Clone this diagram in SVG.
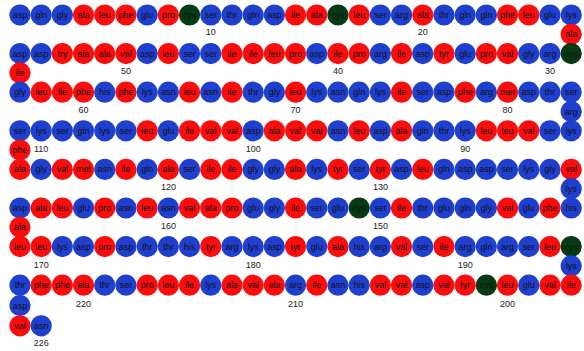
<svg xmlns="http://www.w3.org/2000/svg" width="584" height="351" viewBox="0 0 584 351">
<style>
circle{stroke:none}
.b circle{fill:#1f3fcf}
.r circle{fill:#fb0d0d}
.g circle{fill:#063a14}
text{font-family:"Liberation Sans",Arial,sans-serif;font-size:9px;text-anchor:middle;fill:#111}
.lbl text{fill:#222}
</style>
<rect width="584" height="351" fill="#fff"/>
<g id="nodes">
<g id="n1" class="b"><circle cx="20" cy="15" r="10.6"/><text x="20" y="18">asp</text></g>
<g id="n2" class="b"><circle cx="41.2" cy="15" r="10.6"/><text x="41.2" y="18">gln</text></g>
<g id="n3" class="b"><circle cx="62.4" cy="15" r="10.6"/><text x="62.4" y="18">gly</text></g>
<g id="n4" class="r"><circle cx="83.6" cy="15" r="10.6"/><text x="83.6" y="18">ala</text></g>
<g id="n5" class="r"><circle cx="104.8" cy="15" r="10.6"/><text x="104.8" y="18">leu</text></g>
<g id="n6" class="r"><circle cx="126" cy="15" r="10.6"/><text x="126" y="18">phe</text></g>
<g id="n7" class="b"><circle cx="147.2" cy="15" r="10.6"/><text x="147.2" y="18">glu</text></g>
<g id="n8" class="r"><circle cx="168.4" cy="15" r="10.6"/><text x="168.4" y="18">pro</text></g>
<g id="n9" class="g"><circle cx="189.6" cy="15" r="10.6"/><text x="189.6" y="18">cys</text></g>
<g id="n10" class="b"><circle cx="210.8" cy="15" r="10.6"/><text x="210.8" y="18">ser</text></g>
<g id="n11" class="b"><circle cx="232" cy="15" r="10.6"/><text x="232" y="18">thr</text></g>
<g id="n12" class="b"><circle cx="253.2" cy="15" r="10.6"/><text x="253.2" y="18">gln</text></g>
<g id="n13" class="b"><circle cx="274.4" cy="15" r="10.6"/><text x="274.4" y="18">asp</text></g>
<g id="n14" class="r"><circle cx="295.6" cy="15" r="10.6"/><text x="295.6" y="18">ile</text></g>
<g id="n15" class="r"><circle cx="316.8" cy="15" r="10.6"/><text x="316.8" y="18">ala</text></g>
<g id="n16" class="g"><circle cx="338" cy="15" r="10.6"/><text x="338" y="18">cys</text></g>
<g id="n17" class="r"><circle cx="359.2" cy="15" r="10.6"/><text x="359.2" y="18">leu</text></g>
<g id="n18" class="b"><circle cx="380.4" cy="15" r="10.6"/><text x="380.4" y="18">ser</text></g>
<g id="n19" class="b"><circle cx="401.6" cy="15" r="10.6"/><text x="401.6" y="18">arg</text></g>
<g id="n20" class="r"><circle cx="422.8" cy="15" r="10.6"/><text x="422.8" y="18">ala</text></g>
<g id="n21" class="b"><circle cx="444" cy="15" r="10.6"/><text x="444" y="18">thr</text></g>
<g id="n22" class="b"><circle cx="465.2" cy="15" r="10.6"/><text x="465.2" y="18">gln</text></g>
<g id="n23" class="b"><circle cx="486.4" cy="15" r="10.6"/><text x="486.4" y="18">gln</text></g>
<g id="n24" class="r"><circle cx="507.6" cy="15" r="10.6"/><text x="507.6" y="18">phe</text></g>
<g id="n25" class="r"><circle cx="528.8" cy="15" r="10.6"/><text x="528.8" y="18">leu</text></g>
<g id="n26" class="b"><circle cx="550" cy="15" r="10.6"/><text x="550" y="18">glu</text></g>
<g id="n27" class="b"><circle cx="571.2" cy="15" r="10.6"/><text x="571.2" y="18">lys</text></g>
<g id="n28" class="r"><circle cx="571.2" cy="34.3" r="10.6"/><text x="571.2" y="37.3">ala</text></g>
<g id="n29" class="g"><circle cx="571.2" cy="53.6" r="10.6"/><text x="571.2" y="56.6">cys</text></g>
<g id="n30" class="b"><circle cx="550" cy="53.6" r="10.6"/><text x="550" y="56.6">arg</text></g>
<g id="n31" class="b"><circle cx="528.8" cy="53.6" r="10.6"/><text x="528.8" y="56.6">gly</text></g>
<g id="n32" class="r"><circle cx="507.6" cy="53.6" r="10.6"/><text x="507.6" y="56.6">val</text></g>
<g id="n33" class="r"><circle cx="486.4" cy="53.6" r="10.6"/><text x="486.4" y="56.6">pro</text></g>
<g id="n34" class="b"><circle cx="465.2" cy="53.6" r="10.6"/><text x="465.2" y="56.6">glu</text></g>
<g id="n35" class="r"><circle cx="444" cy="53.6" r="10.6"/><text x="444" y="56.6">tyr</text></g>
<g id="n36" class="b"><circle cx="422.8" cy="53.6" r="10.6"/><text x="422.8" y="56.6">asp</text></g>
<g id="n37" class="r"><circle cx="401.6" cy="53.6" r="10.6"/><text x="401.6" y="56.6">ile</text></g>
<g id="n38" class="b"><circle cx="380.4" cy="53.6" r="10.6"/><text x="380.4" y="56.6">arg</text></g>
<g id="n39" class="r"><circle cx="359.2" cy="53.6" r="10.6"/><text x="359.2" y="56.6">pro</text></g>
<g id="n40" class="r"><circle cx="338" cy="53.6" r="10.6"/><text x="338" y="56.6">ile</text></g>
<g id="n41" class="b"><circle cx="316.8" cy="53.6" r="10.6"/><text x="316.8" y="56.6">asp</text></g>
<g id="n42" class="r"><circle cx="295.6" cy="53.6" r="10.6"/><text x="295.6" y="56.6">pro</text></g>
<g id="n43" class="r"><circle cx="274.4" cy="53.6" r="10.6"/><text x="274.4" y="56.6">leu</text></g>
<g id="n44" class="r"><circle cx="253.2" cy="53.6" r="10.6"/><text x="253.2" y="56.6">ile</text></g>
<g id="n45" class="r"><circle cx="232" cy="53.6" r="10.6"/><text x="232" y="56.6">ile</text></g>
<g id="n46" class="b"><circle cx="210.8" cy="53.6" r="10.6"/><text x="210.8" y="56.6">ser</text></g>
<g id="n47" class="b"><circle cx="189.6" cy="53.6" r="10.6"/><text x="189.6" y="56.6">ser</text></g>
<g id="n48" class="r"><circle cx="168.4" cy="53.6" r="10.6"/><text x="168.4" y="56.6">leu</text></g>
<g id="n49" class="b"><circle cx="147.2" cy="53.6" r="10.6"/><text x="147.2" y="56.6">asp</text></g>
<g id="n50" class="r"><circle cx="126" cy="53.6" r="10.6"/><text x="126" y="56.6">val</text></g>
<g id="n51" class="r"><circle cx="104.8" cy="53.6" r="10.6"/><text x="104.8" y="56.6">ala</text></g>
<g id="n52" class="r"><circle cx="83.6" cy="53.6" r="10.6"/><text x="83.6" y="56.6">ala</text></g>
<g id="n53" class="r"><circle cx="62.4" cy="53.6" r="10.6"/><text x="62.4" y="56.6">try</text></g>
<g id="n54" class="b"><circle cx="41.2" cy="53.6" r="10.6"/><text x="41.2" y="56.6">asp</text></g>
<g id="n55" class="b"><circle cx="20" cy="53.6" r="10.6"/><text x="20" y="56.6">asp</text></g>
<g id="n56" class="r"><circle cx="20" cy="72.9" r="10.6"/><text x="20" y="75.9">ile</text></g>
<g id="n57" class="b"><circle cx="20" cy="92.2" r="10.6"/><text x="20" y="95.2">gly</text></g>
<g id="n58" class="r"><circle cx="41.2" cy="92.2" r="10.6"/><text x="41.2" y="95.2">leu</text></g>
<g id="n59" class="r"><circle cx="62.4" cy="92.2" r="10.6"/><text x="62.4" y="95.2">ile</text></g>
<g id="n60" class="r"><circle cx="83.6" cy="92.2" r="10.6"/><text x="83.6" y="95.2">phe</text></g>
<g id="n61" class="b"><circle cx="104.8" cy="92.2" r="10.6"/><text x="104.8" y="95.2">his</text></g>
<g id="n62" class="r"><circle cx="126" cy="92.2" r="10.6"/><text x="126" y="95.2">phe</text></g>
<g id="n63" class="b"><circle cx="147.2" cy="92.2" r="10.6"/><text x="147.2" y="95.2">lys</text></g>
<g id="n64" class="b"><circle cx="168.4" cy="92.2" r="10.6"/><text x="168.4" y="95.2">asn</text></g>
<g id="n65" class="r"><circle cx="189.6" cy="92.2" r="10.6"/><text x="189.6" y="95.2">leu</text></g>
<g id="n66" class="b"><circle cx="210.8" cy="92.2" r="10.6"/><text x="210.8" y="95.2">asn</text></g>
<g id="n67" class="r"><circle cx="232" cy="92.2" r="10.6"/><text x="232" y="95.2">ile</text></g>
<g id="n68" class="b"><circle cx="253.2" cy="92.2" r="10.6"/><text x="253.2" y="95.2">thr</text></g>
<g id="n69" class="b"><circle cx="274.4" cy="92.2" r="10.6"/><text x="274.4" y="95.2">gly</text></g>
<g id="n70" class="r"><circle cx="295.6" cy="92.2" r="10.6"/><text x="295.6" y="95.2">leu</text></g>
<g id="n71" class="b"><circle cx="316.8" cy="92.2" r="10.6"/><text x="316.8" y="95.2">lys</text></g>
<g id="n72" class="b"><circle cx="338" cy="92.2" r="10.6"/><text x="338" y="95.2">asn</text></g>
<g id="n73" class="b"><circle cx="359.2" cy="92.2" r="10.6"/><text x="359.2" y="95.2">gln</text></g>
<g id="n74" class="b"><circle cx="380.4" cy="92.2" r="10.6"/><text x="380.4" y="95.2">lys</text></g>
<g id="n75" class="r"><circle cx="401.6" cy="92.2" r="10.6"/><text x="401.6" y="95.2">ile</text></g>
<g id="n76" class="b"><circle cx="422.8" cy="92.2" r="10.6"/><text x="422.8" y="95.2">ser</text></g>
<g id="n77" class="b"><circle cx="444" cy="92.2" r="10.6"/><text x="444" y="95.2">asp</text></g>
<g id="n78" class="r"><circle cx="465.2" cy="92.2" r="10.6"/><text x="465.2" y="95.2">phe</text></g>
<g id="n79" class="b"><circle cx="486.4" cy="92.2" r="10.6"/><text x="486.4" y="95.2">arg</text></g>
<g id="n80" class="r"><circle cx="507.6" cy="92.2" r="10.6"/><text x="507.6" y="95.2">met</text></g>
<g id="n81" class="b"><circle cx="528.8" cy="92.2" r="10.6"/><text x="528.8" y="95.2">asp</text></g>
<g id="n82" class="b"><circle cx="550" cy="92.2" r="10.6"/><text x="550" y="95.2">thr</text></g>
<g id="n83" class="b"><circle cx="571.2" cy="92.2" r="10.6"/><text x="571.2" y="95.2">ser</text></g>
<g id="n84" class="b"><circle cx="571.2" cy="111.5" r="10.6"/><text x="571.2" y="114.5">arg</text></g>
<g id="n85" class="b"><circle cx="571.2" cy="130.8" r="10.6"/><text x="571.2" y="133.8">lys</text></g>
<g id="n86" class="b"><circle cx="550" cy="130.8" r="10.6"/><text x="550" y="133.8">ser</text></g>
<g id="n87" class="r"><circle cx="528.8" cy="130.8" r="10.6"/><text x="528.8" y="133.8">val</text></g>
<g id="n88" class="r"><circle cx="507.6" cy="130.8" r="10.6"/><text x="507.6" y="133.8">leu</text></g>
<g id="n89" class="r"><circle cx="486.4" cy="130.8" r="10.6"/><text x="486.4" y="133.8">leu</text></g>
<g id="n90" class="b"><circle cx="465.2" cy="130.8" r="10.6"/><text x="465.2" y="133.8">lys</text></g>
<g id="n91" class="b"><circle cx="444" cy="130.8" r="10.6"/><text x="444" y="133.8">thr</text></g>
<g id="n92" class="b"><circle cx="422.8" cy="130.8" r="10.6"/><text x="422.8" y="133.8">gln</text></g>
<g id="n93" class="r"><circle cx="401.6" cy="130.8" r="10.6"/><text x="401.6" y="133.8">ala</text></g>
<g id="n94" class="b"><circle cx="380.4" cy="130.8" r="10.6"/><text x="380.4" y="133.8">asp</text></g>
<g id="n95" class="r"><circle cx="359.2" cy="130.8" r="10.6"/><text x="359.2" y="133.8">leu</text></g>
<g id="n96" class="b"><circle cx="338" cy="130.8" r="10.6"/><text x="338" y="133.8">asn</text></g>
<g id="n97" class="r"><circle cx="316.8" cy="130.8" r="10.6"/><text x="316.8" y="133.8">val</text></g>
<g id="n98" class="r"><circle cx="295.6" cy="130.8" r="10.6"/><text x="295.6" y="133.8">val</text></g>
<g id="n99" class="r"><circle cx="274.4" cy="130.8" r="10.6"/><text x="274.4" y="133.8">ala</text></g>
<g id="n100" class="b"><circle cx="253.2" cy="130.8" r="10.6"/><text x="253.2" y="133.8">asp</text></g>
<g id="n101" class="r"><circle cx="232" cy="130.8" r="10.6"/><text x="232" y="133.8">val</text></g>
<g id="n102" class="r"><circle cx="210.8" cy="130.8" r="10.6"/><text x="210.8" y="133.8">val</text></g>
<g id="n103" class="r"><circle cx="189.6" cy="130.8" r="10.6"/><text x="189.6" y="133.8">ile</text></g>
<g id="n104" class="b"><circle cx="168.4" cy="130.8" r="10.6"/><text x="168.4" y="133.8">glu</text></g>
<g id="n105" class="r"><circle cx="147.2" cy="130.8" r="10.6"/><text x="147.2" y="133.8">leu</text></g>
<g id="n106" class="b"><circle cx="126" cy="130.8" r="10.6"/><text x="126" y="133.8">ser</text></g>
<g id="n107" class="b"><circle cx="104.8" cy="130.8" r="10.6"/><text x="104.8" y="133.8">lys</text></g>
<g id="n108" class="b"><circle cx="83.6" cy="130.8" r="10.6"/><text x="83.6" y="133.8">gln</text></g>
<g id="n109" class="b"><circle cx="62.4" cy="130.8" r="10.6"/><text x="62.4" y="133.8">ser</text></g>
<g id="n110" class="b"><circle cx="41.2" cy="130.8" r="10.6"/><text x="41.2" y="133.8">lys</text></g>
<g id="n111" class="b"><circle cx="20" cy="130.8" r="10.6"/><text x="20" y="133.8">ser</text></g>
<g id="n112" class="r"><circle cx="20" cy="150.1" r="10.6"/><text x="20" y="153.1">phe</text></g>
<g id="n113" class="r"><circle cx="20" cy="169.4" r="10.6"/><text x="20" y="172.4">ala</text></g>
<g id="n114" class="b"><circle cx="41.2" cy="169.4" r="10.6"/><text x="41.2" y="172.4">gly</text></g>
<g id="n115" class="r"><circle cx="62.4" cy="169.4" r="10.6"/><text x="62.4" y="172.4">val</text></g>
<g id="n116" class="r"><circle cx="83.6" cy="169.4" r="10.6"/><text x="83.6" y="172.4">met</text></g>
<g id="n117" class="b"><circle cx="104.8" cy="169.4" r="10.6"/><text x="104.8" y="172.4">asn</text></g>
<g id="n118" class="r"><circle cx="126" cy="169.4" r="10.6"/><text x="126" y="172.4">ile</text></g>
<g id="n119" class="b"><circle cx="147.2" cy="169.4" r="10.6"/><text x="147.2" y="172.4">gln</text></g>
<g id="n120" class="r"><circle cx="168.4" cy="169.4" r="10.6"/><text x="168.4" y="172.4">ala</text></g>
<g id="n121" class="b"><circle cx="189.6" cy="169.4" r="10.6"/><text x="189.6" y="172.4">ser</text></g>
<g id="n122" class="r"><circle cx="210.8" cy="169.4" r="10.6"/><text x="210.8" y="172.4">ile</text></g>
<g id="n123" class="r"><circle cx="232" cy="169.4" r="10.6"/><text x="232" y="172.4">ile</text></g>
<g id="n124" class="b"><circle cx="253.2" cy="169.4" r="10.6"/><text x="253.2" y="172.4">gly</text></g>
<g id="n125" class="b"><circle cx="274.4" cy="169.4" r="10.6"/><text x="274.4" y="172.4">gly</text></g>
<g id="n126" class="r"><circle cx="295.6" cy="169.4" r="10.6"/><text x="295.6" y="172.4">ala</text></g>
<g id="n127" class="b"><circle cx="316.8" cy="169.4" r="10.6"/><text x="316.8" y="172.4">lys</text></g>
<g id="n128" class="r"><circle cx="338" cy="169.4" r="10.6"/><text x="338" y="172.4">tyr</text></g>
<g id="n129" class="b"><circle cx="359.2" cy="169.4" r="10.6"/><text x="359.2" y="172.4">ser</text></g>
<g id="n130" class="r"><circle cx="380.4" cy="169.4" r="10.6"/><text x="380.4" y="172.4">tyr</text></g>
<g id="n131" class="b"><circle cx="401.6" cy="169.4" r="10.6"/><text x="401.6" y="172.4">asp</text></g>
<g id="n132" class="r"><circle cx="422.8" cy="169.4" r="10.6"/><text x="422.8" y="172.4">leu</text></g>
<g id="n133" class="b"><circle cx="444" cy="169.4" r="10.6"/><text x="444" y="172.4">gln</text></g>
<g id="n134" class="b"><circle cx="465.2" cy="169.4" r="10.6"/><text x="465.2" y="172.4">asp</text></g>
<g id="n135" class="b"><circle cx="486.4" cy="169.4" r="10.6"/><text x="486.4" y="172.4">asp</text></g>
<g id="n136" class="b"><circle cx="507.6" cy="169.4" r="10.6"/><text x="507.6" y="172.4">ser</text></g>
<g id="n137" class="b"><circle cx="528.8" cy="169.4" r="10.6"/><text x="528.8" y="172.4">lys</text></g>
<g id="n138" class="b"><circle cx="550" cy="169.4" r="10.6"/><text x="550" y="172.4">gly</text></g>
<g id="n139" class="r"><circle cx="571.2" cy="169.4" r="10.6"/><text x="571.2" y="172.4">val</text></g>
<g id="n140" class="b"><circle cx="571.2" cy="188.7" r="10.6"/><text x="571.2" y="191.7">lys</text></g>
<g id="n141" class="b"><circle cx="571.2" cy="208" r="10.6"/><text x="571.2" y="211">his</text></g>
<g id="n142" class="r"><circle cx="550" cy="208" r="10.6"/><text x="550" y="211">phe</text></g>
<g id="n143" class="b"><circle cx="528.8" cy="208" r="10.6"/><text x="528.8" y="211">glu</text></g>
<g id="n144" class="r"><circle cx="507.6" cy="208" r="10.6"/><text x="507.6" y="211">val</text></g>
<g id="n145" class="b"><circle cx="486.4" cy="208" r="10.6"/><text x="486.4" y="211">gly</text></g>
<g id="n146" class="b"><circle cx="465.2" cy="208" r="10.6"/><text x="465.2" y="211">gln</text></g>
<g id="n147" class="b"><circle cx="444" cy="208" r="10.6"/><text x="444" y="211">glu</text></g>
<g id="n148" class="b"><circle cx="422.8" cy="208" r="10.6"/><text x="422.8" y="211">thr</text></g>
<g id="n149" class="r"><circle cx="401.6" cy="208" r="10.6"/><text x="401.6" y="211">ile</text></g>
<g id="n150" class="b"><circle cx="380.4" cy="208" r="10.6"/><text x="380.4" y="211">ser</text></g>
<g id="n151" class="g"><circle cx="359.2" cy="208" r="10.6"/><text x="359.2" y="211">cys</text></g>
<g id="n152" class="b"><circle cx="338" cy="208" r="10.6"/><text x="338" y="211">glu</text></g>
<g id="n153" class="b"><circle cx="316.8" cy="208" r="10.6"/><text x="316.8" y="211">ser</text></g>
<g id="n154" class="r"><circle cx="295.6" cy="208" r="10.6"/><text x="295.6" y="211">ile</text></g>
<g id="n155" class="b"><circle cx="274.4" cy="208" r="10.6"/><text x="274.4" y="211">gly</text></g>
<g id="n156" class="b"><circle cx="253.2" cy="208" r="10.6"/><text x="253.2" y="211">glu</text></g>
<g id="n157" class="r"><circle cx="232" cy="208" r="10.6"/><text x="232" y="211">pro</text></g>
<g id="n158" class="r"><circle cx="210.8" cy="208" r="10.6"/><text x="210.8" y="211">ala</text></g>
<g id="n159" class="r"><circle cx="189.6" cy="208" r="10.6"/><text x="189.6" y="211">val</text></g>
<g id="n160" class="b"><circle cx="168.4" cy="208" r="10.6"/><text x="168.4" y="211">asn</text></g>
<g id="n161" class="r"><circle cx="147.2" cy="208" r="10.6"/><text x="147.2" y="211">leu</text></g>
<g id="n162" class="b"><circle cx="126" cy="208" r="10.6"/><text x="126" y="211">asn</text></g>
<g id="n163" class="r"><circle cx="104.8" cy="208" r="10.6"/><text x="104.8" y="211">pro</text></g>
<g id="n164" class="b"><circle cx="83.6" cy="208" r="10.6"/><text x="83.6" y="211">glu</text></g>
<g id="n165" class="r"><circle cx="62.4" cy="208" r="10.6"/><text x="62.4" y="211">leu</text></g>
<g id="n166" class="r"><circle cx="41.2" cy="208" r="10.6"/><text x="41.2" y="211">ala</text></g>
<g id="n167" class="b"><circle cx="20" cy="208" r="10.6"/><text x="20" y="211">asp</text></g>
<g id="n168" class="r"><circle cx="20" cy="227.3" r="10.6"/><text x="20" y="230.3">ala</text></g>
<g id="n169" class="r"><circle cx="20" cy="246.6" r="10.6"/><text x="20" y="249.6">leu</text></g>
<g id="n170" class="r"><circle cx="41.2" cy="246.6" r="10.6"/><text x="41.2" y="249.6">leu</text></g>
<g id="n171" class="b"><circle cx="62.4" cy="246.6" r="10.6"/><text x="62.4" y="249.6">lys</text></g>
<g id="n172" class="b"><circle cx="83.6" cy="246.6" r="10.6"/><text x="83.6" y="249.6">asp</text></g>
<g id="n173" class="r"><circle cx="104.8" cy="246.6" r="10.6"/><text x="104.8" y="249.6">pro</text></g>
<g id="n174" class="b"><circle cx="126" cy="246.6" r="10.6"/><text x="126" y="249.6">asp</text></g>
<g id="n175" class="b"><circle cx="147.2" cy="246.6" r="10.6"/><text x="147.2" y="249.6">thr</text></g>
<g id="n176" class="b"><circle cx="168.4" cy="246.6" r="10.6"/><text x="168.4" y="249.6">thr</text></g>
<g id="n177" class="b"><circle cx="189.6" cy="246.6" r="10.6"/><text x="189.6" y="249.6">his</text></g>
<g id="n178" class="r"><circle cx="210.8" cy="246.6" r="10.6"/><text x="210.8" y="249.6">tyr</text></g>
<g id="n179" class="b"><circle cx="232" cy="246.6" r="10.6"/><text x="232" y="249.6">arg</text></g>
<g id="n180" class="b"><circle cx="253.2" cy="246.6" r="10.6"/><text x="253.2" y="249.6">lys</text></g>
<g id="n181" class="b"><circle cx="274.4" cy="246.6" r="10.6"/><text x="274.4" y="249.6">asp</text></g>
<g id="n182" class="r"><circle cx="295.6" cy="246.6" r="10.6"/><text x="295.6" y="249.6">tyr</text></g>
<g id="n183" class="b"><circle cx="316.8" cy="246.6" r="10.6"/><text x="316.8" y="249.6">glu</text></g>
<g id="n184" class="r"><circle cx="338" cy="246.6" r="10.6"/><text x="338" y="249.6">ala</text></g>
<g id="n185" class="b"><circle cx="359.2" cy="246.6" r="10.6"/><text x="359.2" y="249.6">his</text></g>
<g id="n186" class="b"><circle cx="380.4" cy="246.6" r="10.6"/><text x="380.4" y="249.6">arg</text></g>
<g id="n187" class="r"><circle cx="401.6" cy="246.6" r="10.6"/><text x="401.6" y="249.6">val</text></g>
<g id="n188" class="b"><circle cx="422.8" cy="246.6" r="10.6"/><text x="422.8" y="249.6">ser</text></g>
<g id="n189" class="r"><circle cx="444" cy="246.6" r="10.6"/><text x="444" y="249.6">ile</text></g>
<g id="n190" class="b"><circle cx="465.2" cy="246.6" r="10.6"/><text x="465.2" y="249.6">arg</text></g>
<g id="n191" class="b"><circle cx="486.4" cy="246.6" r="10.6"/><text x="486.4" y="249.6">gln</text></g>
<g id="n192" class="b"><circle cx="507.6" cy="246.6" r="10.6"/><text x="507.6" y="249.6">arg</text></g>
<g id="n193" class="b"><circle cx="528.8" cy="246.6" r="10.6"/><text x="528.8" y="249.6">ser</text></g>
<g id="n194" class="r"><circle cx="550" cy="246.6" r="10.6"/><text x="550" y="249.6">leu</text></g>
<g id="n195" class="g"><circle cx="571.2" cy="246.6" r="10.6"/><text x="571.2" y="249.6">cys</text></g>
<g id="n196" class="b"><circle cx="571.2" cy="265.9" r="10.6"/><text x="571.2" y="268.9">lys</text></g>
<g id="n197" class="r"><circle cx="571.2" cy="285.2" r="10.6"/><text x="571.2" y="288.2">ile</text></g>
<g id="n198" class="r"><circle cx="550" cy="285.2" r="10.6"/><text x="550" y="288.2">val</text></g>
<g id="n199" class="b"><circle cx="528.8" cy="285.2" r="10.6"/><text x="528.8" y="288.2">glu</text></g>
<g id="n200" class="r"><circle cx="507.6" cy="285.2" r="10.6"/><text x="507.6" y="288.2">leu</text></g>
<g id="n201" class="g"><circle cx="486.4" cy="285.2" r="10.6"/><text x="486.4" y="288.2">cys</text></g>
<g id="n202" class="r"><circle cx="465.2" cy="285.2" r="10.6"/><text x="465.2" y="288.2">tyr</text></g>
<g id="n203" class="r"><circle cx="444" cy="285.2" r="10.6"/><text x="444" y="288.2">val</text></g>
<g id="n204" class="b"><circle cx="422.8" cy="285.2" r="10.6"/><text x="422.8" y="288.2">asp</text></g>
<g id="n205" class="r"><circle cx="401.6" cy="285.2" r="10.6"/><text x="401.6" y="288.2">val</text></g>
<g id="n206" class="r"><circle cx="380.4" cy="285.2" r="10.6"/><text x="380.4" y="288.2">val</text></g>
<g id="n207" class="b"><circle cx="359.2" cy="285.2" r="10.6"/><text x="359.2" y="288.2">his</text></g>
<g id="n208" class="b"><circle cx="338" cy="285.2" r="10.6"/><text x="338" y="288.2">asn</text></g>
<g id="n209" class="r"><circle cx="316.8" cy="285.2" r="10.6"/><text x="316.8" y="288.2">ile</text></g>
<g id="n210" class="b"><circle cx="295.6" cy="285.2" r="10.6"/><text x="295.6" y="288.2">arg</text></g>
<g id="n211" class="r"><circle cx="274.4" cy="285.2" r="10.6"/><text x="274.4" y="288.2">ala</text></g>
<g id="n212" class="r"><circle cx="253.2" cy="285.2" r="10.6"/><text x="253.2" y="288.2">val</text></g>
<g id="n213" class="r"><circle cx="232" cy="285.2" r="10.6"/><text x="232" y="288.2">ala</text></g>
<g id="n214" class="b"><circle cx="210.8" cy="285.2" r="10.6"/><text x="210.8" y="288.2">lys</text></g>
<g id="n215" class="r"><circle cx="189.6" cy="285.2" r="10.6"/><text x="189.6" y="288.2">ile</text></g>
<g id="n216" class="r"><circle cx="168.4" cy="285.2" r="10.6"/><text x="168.4" y="288.2">leu</text></g>
<g id="n217" class="r"><circle cx="147.2" cy="285.2" r="10.6"/><text x="147.2" y="288.2">pro</text></g>
<g id="n218" class="b"><circle cx="126" cy="285.2" r="10.6"/><text x="126" y="288.2">ser</text></g>
<g id="n219" class="b"><circle cx="104.8" cy="285.2" r="10.6"/><text x="104.8" y="288.2">thr</text></g>
<g id="n220" class="r"><circle cx="83.6" cy="285.2" r="10.6"/><text x="83.6" y="288.2">ala</text></g>
<g id="n221" class="r"><circle cx="62.4" cy="285.2" r="10.6"/><text x="62.4" y="288.2">phe</text></g>
<g id="n222" class="r"><circle cx="41.2" cy="285.2" r="10.6"/><text x="41.2" y="288.2">phe</text></g>
<g id="n223" class="b"><circle cx="20" cy="285.2" r="10.6"/><text x="20" y="288.2">thr</text></g>
<g id="n224" class="b"><circle cx="20" cy="305.5" r="10.6"/><text x="20" y="308.5">asp</text></g>
<g id="n225" class="r"><circle cx="20" cy="325.8" r="10.6"/><text x="20" y="328.8">val</text></g>
<g id="n226" class="b"><circle cx="41.2" cy="325.8" r="10.6"/><text x="41.2" y="328.8">asn</text></g>
</g>
<g id="labels" class="lbl">
<text x="210.8" y="35.2">10</text>
<text x="422.8" y="35.2">20</text>
<text x="550" y="74">30</text>
<text x="338" y="74">40</text>
<text x="126" y="74">50</text>
<text x="83.6" y="113">60</text>
<text x="295.6" y="113">70</text>
<text x="507.6" y="113">80</text>
<text x="465.2" y="151.5">90</text>
<text x="253.2" y="151.5">100</text>
<text x="41.2" y="151.5">110</text>
<text x="168.4" y="190.3">120</text>
<text x="380.4" y="190.3">130</text>
<text x="380.4" y="229">150</text>
<text x="168.4" y="229">160</text>
<text x="41.2" y="267.7">170</text>
<text x="253.2" y="267.7">180</text>
<text x="465.2" y="267.7">190</text>
<text x="507.6" y="307.2">200</text>
<text x="295.6" y="307.2">210</text>
<text x="83.6" y="307.2">220</text>
<text x="41.2" y="345.5">226</text>
</g>
</svg>
